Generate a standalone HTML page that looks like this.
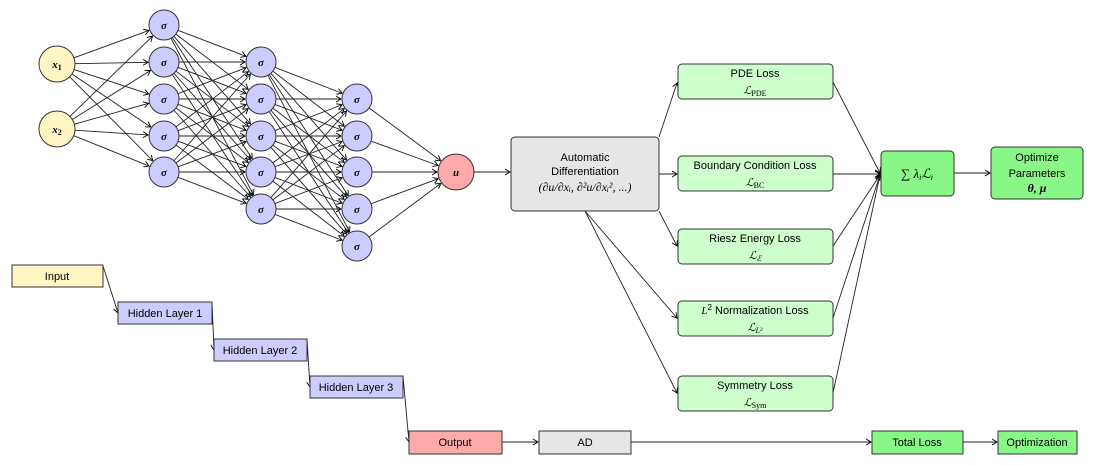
<!DOCTYPE html>
<html><head><meta charset="utf-8">
<style>
body{margin:0;background:#fff;width:1095px;height:465px;overflow:hidden}
svg{display:block}
text{font-family:"Liberation Sans",sans-serif;font-size:11px;fill:#000}
.m{font-family:"Liberation Serif",serif;font-style:italic;font-weight:bold}
</style></head><body>
<svg id="s" width="1095" height="465" viewBox="0 0 1095 465" xmlns="http://www.w3.org/2000/svg">
<defs>
<marker id="a" markerWidth="8" markerHeight="8" refX="6" refY="4" orient="auto" markerUnits="userSpaceOnUse">
<path d="M1,1 L6,4 L1,7" fill="none" stroke="#000" stroke-width="0.9"/>
</marker>
</defs>
<g id="edges" stroke="#222" stroke-width="0.9" fill="none"></g>
<g id="nodes"></g>

<!-- AD and loss connections -->
<g stroke="#222" stroke-width="0.9" fill="none" marker-end="url(#a)">
<line x1="474" y1="172" x2="510" y2="172"/>
<line x1="659" y1="137" x2="677" y2="83"/>
<line x1="659" y1="174" x2="677" y2="174"/>
<line x1="659" y1="211" x2="677" y2="246"/>
<line x1="585" y1="211" x2="677" y2="318"/>
<line x1="585" y1="211" x2="677" y2="393"/>
<line x1="833" y1="82" x2="880" y2="173"/>
<line x1="833" y1="174" x2="880" y2="174"/>
<line x1="833" y1="246" x2="880" y2="175"/>
<line x1="833" y1="318" x2="880" y2="175"/>
<line x1="833" y1="393" x2="880" y2="175"/>
<line x1="954" y1="173" x2="990" y2="173"/>
<line x1="103" y1="266" x2="118" y2="313"/>
<line x1="212" y1="302" x2="214" y2="350"/>
<line x1="307" y1="339" x2="310" y2="387"/>
<line x1="403" y1="376" x2="409" y2="442"/>
<line x1="502" y1="442" x2="538" y2="442"/>
<line x1="631" y1="442" x2="871" y2="442"/>
<line x1="963" y1="442" x2="997" y2="442"/>
</g>

<!-- AD box -->
<rect x="511" y="137" width="148" height="74" rx="4" fill="#e6e6e6" stroke="#333"/>
<text x="585" y="161" text-anchor="middle">Automatic</text>
<text x="585" y="175" text-anchor="middle">Differentiation</text>
<text x="585" y="191" text-anchor="middle" class="m" style="font-weight:normal;font-size:12px">(∂u/∂xᵢ, ∂²u/∂xᵢ², ...)</text>

<!-- losses -->
<g fill="#ccffcc" stroke="#333">
<rect x="678" y="64" width="155" height="35" rx="4"/>
<rect x="678" y="156" width="155" height="35" rx="4"/>
<rect x="678" y="229" width="155" height="35" rx="4"/>
<rect x="678" y="301" width="155" height="35" rx="4"/>
<rect x="678" y="376" width="155" height="35" rx="4"/>
</g>
<g text-anchor="middle">
<text x="755" y="77">PDE Loss</text>
<text x="755" y="94" class="m" style="font-weight:normal">ℒ<tspan style="font-style:normal;font-size:8px" dy="2">PDE</tspan></text>
<text x="755" y="169">Boundary Condition Loss</text>
<text x="755" y="186" class="m" style="font-weight:normal">ℒ<tspan style="font-style:normal;font-size:8px" dy="2">BC</tspan></text>
<text x="755" y="242">Riesz Energy Loss</text>
<text x="755" y="259" class="m" style="font-weight:normal">ℒ<tspan style="font-size:8px" dy="2">ℰ</tspan></text>
<text x="755" y="314"><tspan class="m" style="font-weight:normal">L</tspan><tspan font-size="8" dy="-4">2</tspan><tspan dy="4"> Normalization Loss</tspan></text>
<text x="755" y="331" class="m" style="font-weight:normal">ℒ<tspan style="font-size:8px" dy="2">L²</tspan></text>
<text x="755" y="389">Symmetry Loss</text>
<text x="755" y="406" class="m" style="font-weight:normal">ℒ<tspan style="font-style:normal;font-size:8px" dy="2">Sym</tspan></text>
</g>

<rect x="881" y="151" width="73" height="45" rx="4" fill="#88f788" stroke="#333"/>
<text x="917" y="178" text-anchor="middle" style="font-family:'Liberation Serif',serif;font-size:13px">∑ <tspan font-style="italic">λ<tspan font-size="8" dy="2">i</tspan><tspan dy="-2">ℒ</tspan><tspan font-size="8" dy="2">i</tspan></tspan></text>

<rect x="991" y="147" width="92" height="52" rx="4" fill="#88f788" stroke="#333"/>
<text x="1037" y="161" text-anchor="middle">Optimize</text>
<text x="1037" y="177" text-anchor="middle">Parameters</text>
<text x="1037" y="192" text-anchor="middle" class="m" style="font-size:12px">θ, μ</text>

<!-- bottom chain -->
<rect x="12" y="265" width="91" height="22" fill="#fff6c4" stroke="#333"/>
<text x="57" y="280" text-anchor="middle">Input</text>
<rect x="118" y="302" width="94" height="22" fill="#ccccff" stroke="#333"/>
<text x="165" y="317" text-anchor="middle">Hidden Layer 1</text>
<rect x="214" y="339" width="93" height="22" fill="#ccccff" stroke="#333"/>
<text x="260" y="354" text-anchor="middle">Hidden Layer 2</text>
<rect x="310" y="376" width="93" height="22" fill="#ccccff" stroke="#333"/>
<text x="356" y="391" text-anchor="middle">Hidden Layer 3</text>
<rect x="409" y="431" width="93" height="23" fill="#ffaaaa" stroke="#333"/>
<text x="455" y="446" text-anchor="middle">Output</text>
<rect x="539" y="431" width="92" height="23" fill="#e6e6e6" stroke="#333"/>
<text x="585" y="446" text-anchor="middle">AD</text>
<rect x="872" y="431" width="91" height="23" fill="#88f788" stroke="#333"/>
<text x="917" y="446" text-anchor="middle">Total Loss</text>
<rect x="998" y="431" width="79" height="23" fill="#88f788" stroke="#333"/>
<text x="1037" y="446" text-anchor="middle">Optimization</text>
</svg>
<script>
var NS="http://www.w3.org/2000/svg";
var L=[
 [[57,64,18],[57,129,18]],
 [[164,25,15],[164,62,15],[164,99,15],[164,136,15],[164,172,15]],
 [[261,62,15],[261,99,15],[261,136,15],[261,172,15],[261,209,15]],
 [[357,99,15],[357,136,15],[357,172,15],[357,209,15],[357,246,15]],
 [[456,172,18]]
];
var eg=document.getElementById("edges"),ng=document.getElementById("nodes");
for(var l=0;l<4;l++)for(var i=0;i<L[l].length;i++)for(var j=0;j<L[l+1].length;j++){
 var a=L[l][i],b=L[l+1][j],dx=b[0]-a[0],dy=b[1]-a[1],d=Math.sqrt(dx*dx+dy*dy);
 var e=document.createElementNS(NS,"line");
 e.setAttribute("x1",a[0]+dx/d*a[2]);e.setAttribute("y1",a[1]+dy/d*a[2]);
 e.setAttribute("x2",b[0]-dx/d*(b[2]+1));e.setAttribute("y2",b[1]-dy/d*(b[2]+1));
 e.setAttribute("marker-end","url(#a)");eg.appendChild(e);
}
var labs=[["x","1"],["x","2"]];
for(var l=0;l<5;l++)for(var i=0;i<L[l].length;i++){
 var n=L[l][i],c=document.createElementNS(NS,"circle");
 c.setAttribute("cx",n[0]);c.setAttribute("cy",n[1]);c.setAttribute("r",n[2]);
 c.setAttribute("fill",l==0?"#fff6c4":(l==4?"#ffaaaa":"#ccccff"));
 c.setAttribute("stroke","#333");ng.appendChild(c);
 var t=document.createElementNS(NS,"text");
 t.setAttribute("x",n[0]);t.setAttribute("y",n[1]+4);t.setAttribute("text-anchor","middle");
 t.setAttribute("class","m");
 if(l==0){t.textContent="x";var s=document.createElementNS(NS,"tspan");s.setAttribute("font-size","8");s.setAttribute("dy","2");s.setAttribute("style","font-style:normal");s.textContent=labs[i][1];t.appendChild(s);}
 else t.textContent=(l==4?"u":"σ");
 ng.appendChild(t);
}
</script>
</body></html>
